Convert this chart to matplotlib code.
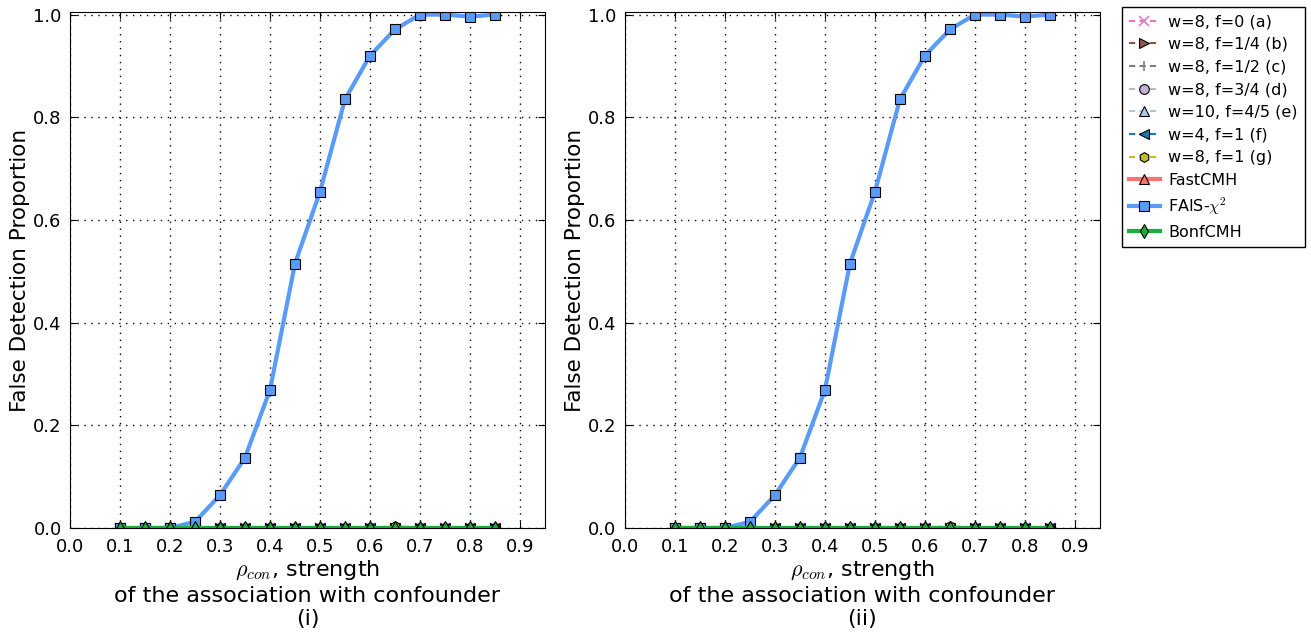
import matplotlib
matplotlib.use("Agg")
import matplotlib.pyplot as plt
import numpy as np

plt.rcParams['mathtext.fontset'] = 'cm'
plt.rcParams['xtick.direction'] = 'in'
plt.rcParams['ytick.direction'] = 'in'
plt.rcParams['xtick.top'] = True
plt.rcParams['ytick.right'] = True
plt.rcParams['xtick.major.size'] = 5
plt.rcParams['ytick.major.size'] = 5
plt.rcParams['lines.dashed_pattern'] = (3, 2)

# strength of the association with the confounder
rho = [0.10, 0.15, 0.20, 0.25, 0.30, 0.35, 0.40, 0.45,
       0.50, 0.55, 0.60, 0.65, 0.70, 0.75, 0.80, 0.85]

zeros = [0.0] * 16
fdp_a = zeros
fdp_b = zeros
fdp_c = zeros
fdp_d = zeros
fdp_e = zeros
fdp_f = zeros
fdp_g = [0, 0, 0, 0, 0, 0, 0, 0, 0, 0, 0, 0.004, 0, 0, 0, 0]
fdp_fastcmh = zeros
fdp_fais = [0.0, 0.0, 0.0, 0.012, 0.064, 0.137, 0.269, 0.515,
            0.655, 0.835, 0.920, 0.971, 1.0, 1.0, 0.996, 1.0]
fdp_bonf = zeros

series = [
    ('w=8, f=0 (a)', fdp_a, '#e377c2', 'x', '--', 1.5),
    ('w=8, f=1/4 (b)', fdp_b, '#8c564b', '>', '--', 1.5),
    ('w=8, f=1/2 (c)', fdp_c, '#7f7f7f', '|', '--', 1.5),
    ('w=8, f=3/4 (d)', fdp_d, '#c5b0d5', 'o', '--', 1.5),
    ('w=10, f=4/5 (e)', fdp_e, '#aec7e8', '^', '--', 1.5),
    ('w=4, f=1 (f)', fdp_f, '#1f77b4', '<', '--', 1.5),
    ('w=8, f=1 (g)', fdp_g, '#bcbd22', 'h', '--', 1.5),
    ('FastCMH', fdp_fastcmh, '#f8736b', '^', '-', 3),
    ('FAIS-$\\chi^2$', fdp_fais, '#5b9bf8', 's', '-', 3),
    ('BonfCMH', fdp_bonf, '#1aaf3c', 'd', '-', 3),
]

fig = plt.figure(figsize=(13.11, 6.39), dpi=100)
ax1 = fig.add_axes([0.0534, 0.1737, 0.3623, 0.8075])
ax2 = fig.add_axes([0.4767, 0.1737, 0.3623, 0.8075])

for ax, tag in [(ax1, '(i)'), (ax2, '(ii)')]:
    for label, vals, col, mk, ls, lw in series:
        thin = mk in ('x', '|')
        ax.plot(rho, vals, color=col, marker=mk, linestyle=ls, linewidth=lw,
                markersize=7, markeredgecolor=col if thin else 'black',
                markeredgewidth=1.2 if thin else 0.8,
                label=label)
    ax.set_xlim(0, 0.95)
    ax.set_ylim(0, 1.005)
    ax.set_xticks(np.arange(0, 0.95, 0.1))
    ax.set_yticks([0.0, 0.2, 0.4, 0.6, 0.8, 1.0])
    ax.tick_params(labelsize=13)
    ax.tick_params(axis='x', pad=7)
    ax.tick_params(axis='y', pad=6)
    ax.grid(True, color='black', linestyle=(0, (1, 4)), linewidth=1)
    ax.set_ylabel('False Detection Proportion', fontsize=15.5, labelpad=2)
    ax.set_xlabel('$\\rho_{con}$, strength\nof the association with confounder\n' + tag,
                  fontsize=16, labelpad=2, linespacing=1.22)

handles, labels = ax1.get_legend_handles_labels()
leg = fig.legend(handles, labels, loc='upper left',
                 bbox_to_anchor=(1122 / 1311, 1 - 7 / 639),
                 fontsize=11.5, labelspacing=0.48, handlelength=1.9,
                 handletextpad=0.55, borderpad=0.45,
                 fancybox=False, edgecolor='black', framealpha=1,
                 borderaxespad=0)
leg.get_frame().set_linewidth(1)

fig.savefig('out.png', dpi=100)
